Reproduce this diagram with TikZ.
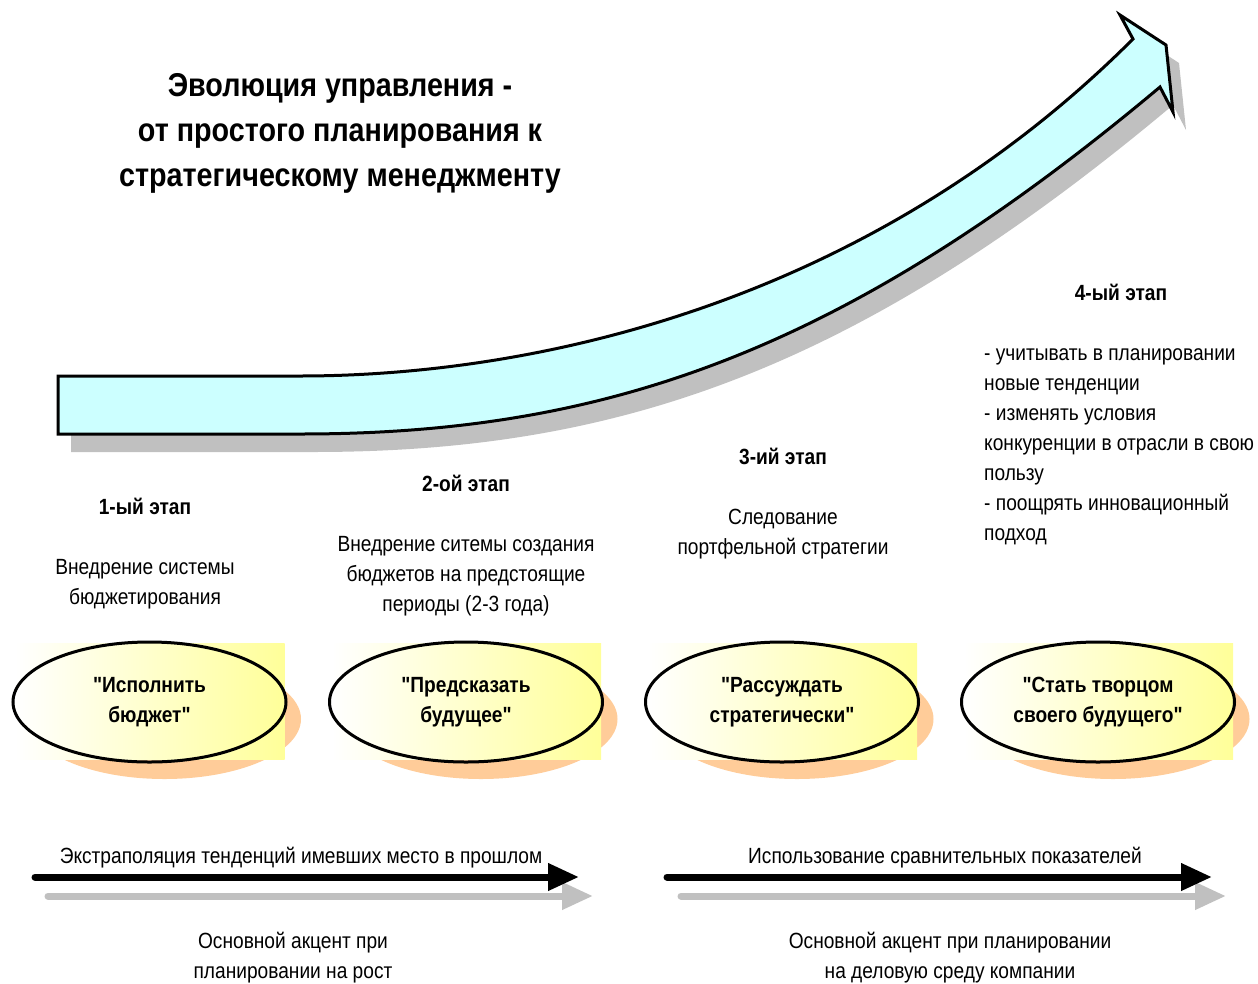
\documentclass[tikz,border=0pt]{standalone}
\usepackage{fontspec}
\setmainfont{Liberation Sans}[FakeStretch=0.87, Ligatures=TeXOff]
\usetikzlibrary{shapes.geometric,arrows.meta}
\definecolor{arrowfill}{HTML}{CCFFFF}
\definecolor{shadowgrey}{HTML}{C0C0C0}
\definecolor{peach}{HTML}{FFCC99}
\definecolor{paleyellow}{HTML}{FFFF99}
\newcommand\sq{\char34\relax}
\begin{document}
\begin{tikzpicture}[x=1pt,y=-1pt,
  bodytext/.style={font=\fontsize{22}{30}\selectfont, align=center, anchor=base, inner sep=0pt},
  stagelabel/.style={bodytext, font=\fontsize{22}{30}\selectfont\bfseries},
  titletext/.style={font=\fontsize{33}{45}\selectfont\bfseries, align=center, anchor=base, inner sep=0pt},
  ovalbox/.style={ellipse, draw=black, line width=3pt, minimum width=273pt, minimum height=120pt, inner sep=0pt, align=center, font=\fontsize{22}{30}\selectfont\bfseries},
  ovalshadow/.style={fill=peach},
  ovalshade/.style={left color=white, right color=paleyellow},
  blackarrow/.style={line width=7pt, line cap=round, -{Triangle[length=31pt,width=26pt]}},
  greyarrow/.style={draw=shadowgrey, line width=7pt, line cap=round, -{Triangle[length=31pt,width=26pt]}, shadowgrey}
]
\useasboundingbox (0,0) rectangle (1258,983);
% big curved arrow: shadow
\begin{scope}[shift={(13,18)}]
\fill[shadowgrey] (58,376) -- (300,376) .. controls (531,376) and (866,306) .. (1133,39) -- (1120,15) -- (1166,45) -- (1173,112) -- (1160,87) .. controls (844,352) and (606,434) .. (300,434) -- (58,434) -- cycle;
\end{scope}
% big curved arrow
\draw[fill=arrowfill, line width=3pt, line join=miter] (58,376) -- (300,376) .. controls (531,376) and (866,306) .. (1133,39) -- (1120,15) -- (1166,45) -- (1173,112) -- (1160,87) .. controls (844,352) and (606,434) .. (300,434) -- (58,434) -- cycle;

% title (base = baseline of last line)
\node[titletext] (title) at (340,186) {Эволюция управления -\\от простого планирования к\\стратегическому менеджменту};

% stage labels and descriptions
\node[stagelabel] (s1) at (145,514) {1-ый этап};
\node[bodytext] (d1) at (145,604) {Внедрение системы\\бюджетирования};
\node[stagelabel] (s2) at (466,491) {2-ой этап};
\node[bodytext] (d2) at (466,611) {Внедрение ситемы создания\\бюджетов на предстоящие\\периоды (2-3 года)};
\node[stagelabel] (s3) at (783,464) {3-ий этап};
\node[bodytext] (d3) at (783,554) {Следование\\портфельной стратегии};
\node[stagelabel] (s4) at (1121,300) {4-ый этап};
\node[bodytext, align=left, anchor=base west] (d4) at (984,540) {- учитывать в планировании\\новые тенденции\\- изменять условия\\конкуренции в отрасли в свою\\пользу\\- поощрять инновационный\\подход};

% ovals
\foreach \cx in {149.5, 466, 782, 1098}{
  \fill[ovalshadow] (\cx+15,719) ellipse [x radius=136.5, y radius=60];
  \shade[ovalshade] (\cx-134,643) rectangle (\cx+135,759);
}
\node[ovalbox] (o1) at (149.5,702) {\sq Исполнить\\бюджет\sq};
\node[ovalbox] (o2) at (466,702) {\sq Предсказать\\будущее\sq};
\node[ovalbox] (o3) at (782,702) {\sq Рассуждать\\стратегически\sq};
\node[ovalbox] (o4) at (1098,702) {\sq Стать творцом\\своего будущего\sq};

% bottom arrows
\coordinate (gA1) at (48,896);
\coordinate (gA2) at (593,896);
\coordinate (bA1) at (35,877);
\coordinate (bA2) at (579,877);
\coordinate (gB1) at (681,896);
\coordinate (gB2) at (1226,896);
\coordinate (bB1) at (667,877);
\coordinate (bB2) at (1212,877);
\draw[greyarrow] (gA1) -- (gA2);
\draw[greyarrow] (gB1) -- (gB2);
\draw[blackarrow] (bA1) -- (bA2);
\draw[blackarrow] (bB1) -- (bB2);

\node[bodytext] (t1) at (301,863) {Экстраполяция тенденций имевших место в прошлом};
\node[bodytext] (t2) at (945,863) {Использование сравнительных показателей};
\node[bodytext] (t3) at (293,978) {Основной акцент при\\планировании на рост};
\node[bodytext] (t4) at (950,978) {Основной акцент при планировании\\на деловую среду компании};
\end{tikzpicture}
\end{document}
